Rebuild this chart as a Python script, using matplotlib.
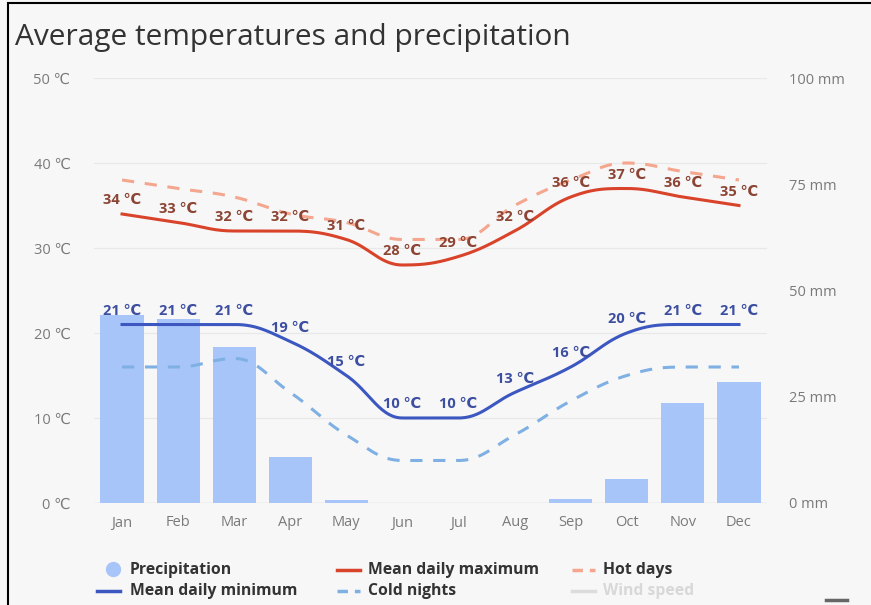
import numpy as np
import matplotlib
matplotlib.use("Agg")
import matplotlib.pyplot as plt
from matplotlib.lines import Line2D
from matplotlib.patches import Rectangle

plt.rcParams['font.family'] = ['Open Sans', 'DejaVu Sans']

months = ['Jan', 'Feb', 'Mar', 'Apr', 'May', 'Jun', 'Jul', 'Aug', 'Sep', 'Oct', 'Nov', 'Dec']
precip_mm = [44.3, 43.4, 36.6, 10.8, 0.7, 0.0, 0.0, 0.0, 0.9, 5.7, 23.6, 28.5]
mean_max = [34, 33, 32, 32, 31, 28, 29, 32, 36, 37, 36, 35]
mean_min = [21, 21, 21, 19, 15, 10, 10, 13, 16, 20, 21, 21]
hot_days = [38, 37, 36, 34, 33, 31, 31, 35, 38, 40, 39, 38]
cold_nights = [16, 16, 17, 13, 8, 5, 5, 8, 12, 15, 16, 16]
temp_ticks = [0, 10, 20, 30, 40, 50]
rain_ticks = [0, 25, 50, 75, 100]

BG = '#f7f7f7'


def spline(xs, ys, smoothing=1.5, n=30):
    # bezier spline through the points, control points like highcharts "spline"
    xs = np.asarray(xs, float)
    ys = np.asarray(ys, float)
    m = len(xs)
    lc = [None] * m
    rc = [None] * m
    for i in range(m):
        if i == 0 or i == m - 1:
            lc[i] = (xs[i], ys[i])
            rc[i] = (xs[i], ys[i])
            continue
        d = smoothing + 1
        lx = (smoothing * xs[i] + xs[i - 1]) / d
        ly = (smoothing * ys[i] + ys[i - 1]) / d
        rx = (smoothing * xs[i] + xs[i + 1]) / d
        ry = (smoothing * ys[i] + ys[i + 1]) / d
        corr = (ry - ly) * (rx - xs[i]) / (rx - lx) + ys[i] - ry
        ly += corr
        ry += corr
        if ly > ys[i - 1] and ly > ys[i]:
            ly = max(ys[i - 1], ys[i]); ry = 2 * ys[i] - ly
        elif ly < ys[i - 1] and ly < ys[i]:
            ly = min(ys[i - 1], ys[i]); ry = 2 * ys[i] - ly
        if ry > ys[i + 1] and ry > ys[i]:
            ry = max(ys[i + 1], ys[i]); ly = 2 * ys[i] - ry
        elif ry < ys[i + 1] and ry < ys[i]:
            ry = min(ys[i + 1], ys[i]); ly = 2 * ys[i] - ry
        lc[i] = (lx, ly)
        rc[i] = (rx, ry)
    t = np.linspace(0, 1, n)[:, None]
    out = []
    for i in range(m - 1):
        p0 = np.array([xs[i], ys[i]])
        p1 = np.array(rc[i])
        p2 = np.array(lc[i + 1])
        p3 = np.array([xs[i + 1], ys[i + 1]])
        seg = ((1 - t) ** 3) * p0 + 3 * ((1 - t) ** 2) * t * p1 + 3 * (1 - t) * t ** 2 * p2 + t ** 3 * p3
        out.append(seg if i == 0 else seg[1:])
    seg = np.vstack(out)
    return seg[:, 0], seg[:, 1]


fig = plt.figure(figsize=(8.71, 6.05), dpi=100, facecolor=BG)
# outer frame
fig.add_artist(Rectangle((8 / 871, -0.01), 1, 1 - 3 / 605 + 0.01, transform=fig.transFigure,
                         fill=False, edgecolor='black', linewidth=1.5))

ax = fig.add_axes([94 / 871, 102 / 605, 673 / 871, 425 / 605])
ax.set_facecolor(BG)
ax2 = ax.twinx()

x = np.arange(len(months))

ax2.bar(x, precip_mm, width=0.77, color='#a7c5f9', zorder=1)
ax2.set_ylim(0, 100)
ax2.set_yticks(rain_ticks)
ax2.set_yticklabels([f'{v} mm' for v in rain_ticks])

ax.set_zorder(ax2.get_zorder() + 1)
ax.patch.set_visible(False)
ax2.patch.set_visible(True)
ax2.patch.set_facecolor(BG)

for v in temp_ticks[1:]:
    ax2.axhline(v * 2, color='#e8e8e8', linewidth=0.9, zorder=0)
ax2.axhline(0, color='#d8d8d8', linewidth=1.0, zorder=0)

sx, sy = spline(x, hot_days)
ax.plot(sx, sy, color='#f4a68e', linewidth=2.2, dashes=(4, 3.5))
sx, sy = spline(x, mean_max)
ax.plot(sx, sy, color='#d8432a', linewidth=2.2)
sx, sy = spline(x, cold_nights)
ax.plot(sx, sy, color='#7fb0e3', linewidth=2.2, dashes=(4, 3.5))
sx, sy = spline(x, mean_min)
ax.plot(sx, sy, color='#3c58c0', linewidth=2.2)

for xi, v in zip(x, mean_max):
    ax.annotate(f'{v} ℃', (xi, v), xytext=(0, 5), textcoords='offset points',
                ha='center', va='bottom', fontsize=10.5, fontweight='bold', color='#8c4434')
for xi, v in zip(x, mean_min):
    ax.annotate(f'{v} ℃', (xi, v), xytext=(0, 5), textcoords='offset points',
                ha='center', va='bottom', fontsize=10.5, fontweight='bold', color='#3d4fa0')

ax.set_xlim(-0.5, len(months) - 0.5)
ax.set_ylim(0, 50)
ax.set_yticks(temp_ticks)
ax.set_yticklabels([f'{v} ℃' for v in temp_ticks])
ax.set_xticks(x)
ax.set_xticklabels(months)

for a in (ax, ax2):
    for s in a.spines.values():
        s.set_visible(False)
    a.tick_params(length=0, colors='#7a7a7a', labelsize=10.5)
ax.tick_params(axis='y', pad=17)
ax.tick_params(axis='x', pad=9)
ax2.tick_params(axis='y', pad=16)

fig.text(15 / 871, 1 - 37 / 605, 'Average temperatures and precipitation', fontsize=21.5,
         color='#333333', va='center', ha='left')


# legend
def leg_line(x0, y, color, dashes=None):
    ln = Line2D([x0 / 871, (x0 + 23) / 871], [1 - y / 605] * 2, transform=fig.transFigure,
                color=color, linewidth=2.5)
    if dashes:
        ln.set_dashes(dashes)
    fig.add_artist(ln)


def leg_text(x0, y, s, color='#333333'):
    fig.text(x0 / 871, 1 - y / 605, s, fontsize=11.3, fontweight='bold', color=color,
             va='center', ha='left')


fig.add_artist(Line2D([113 / 871], [1 - 569 / 605], transform=fig.transFigure, marker='o',
                      markersize=10, color='#a7c5f9', linestyle='none'))
leg_text(130, 570, 'Precipitation')
leg_line(337, 570, '#d8432a')
leg_text(368, 570, 'Mean daily maximum')
leg_line(572, 570, '#f4a68e', (3, 2))
leg_text(603, 570, 'Hot days')
leg_line(97, 591, '#3c58c0')
leg_text(130, 591, 'Mean daily minimum')
leg_line(337, 591, '#7fb0e3', (3, 2))
leg_text(368, 591, 'Cold nights')
leg_line(572, 591, '#dcdcdc')
leg_text(603, 591, 'Wind speed', color='#d8d8d8')

# export menu button, cut off at the bottom edge
fig.add_artist(Line2D([826 / 871, 847 / 871], [1 - 600 / 605] * 2, transform=fig.transFigure,
                      color='#666666', linewidth=2.5))

fig.savefig('out.png', dpi=100, facecolor=BG)
